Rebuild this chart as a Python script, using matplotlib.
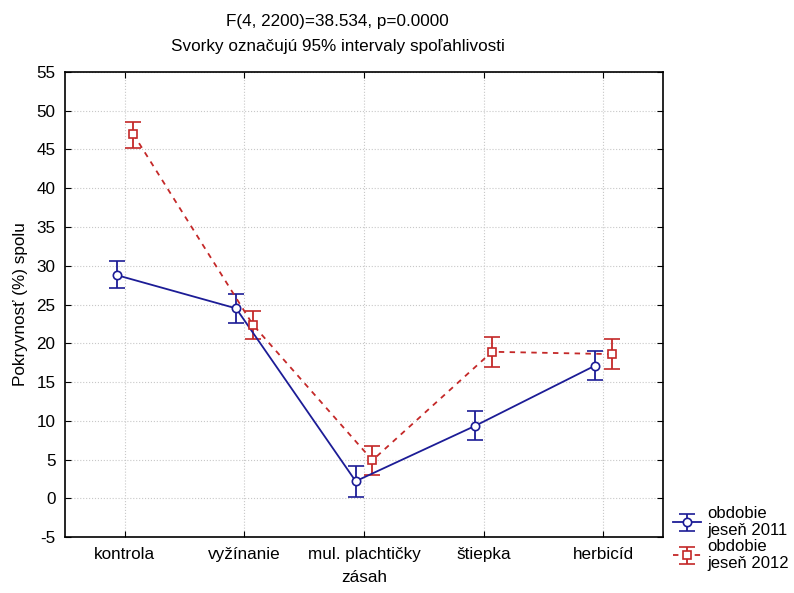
import matplotlib.pyplot as plt
import numpy as np

plt.rcParams['font.family'] = ['Liberation Sans', 'DejaVu Sans']
plt.rcParams['axes.unicode_minus'] = False

# data
categories = ["kontrola", "vyžínanie", "mul. plachtičky", "štiepka", "herbicíd"]
mean_2011 = [28.8, 24.5, 2.2, 9.35, 17.1]
low_2011 = [27.1, 22.6, 0.1, 7.5, 15.3]
high_2011 = [30.6, 26.4, 4.1, 11.25, 19.0]
mean_2012 = [47.0, 22.4, 4.9, 18.9, 18.6]
low_2012 = [45.2, 20.6, 3.0, 17.0, 16.7]
high_2012 = [48.6, 24.2, 6.7, 20.8, 20.6]
labels = ["obdobie\njeseň 2011", "obdobie\njeseň 2012"]

blue = "#1c1c96"
red = "#c42828"
fs = 12.3

fig = plt.figure(figsize=(7.94, 5.93), dpi=100)
ax = fig.add_axes([0.082, 0.0944, 0.753, 0.7842])

x = np.arange(len(categories))
off = 0.07

m1 = np.array(mean_2011)
m2 = np.array(mean_2012)
err1 = [m1 - np.array(low_2011), np.array(high_2011) - m1]
err2 = [m2 - np.array(low_2012), np.array(high_2012) - m2]

h1 = ax.errorbar(x - off, m1, yerr=err1, color=blue, ls='-', lw=1.3,
                 marker='o', ms=6, mfc='white', mec=blue, mew=1.2,
                 capsize=6, elinewidth=1.3, capthick=1.3, label=labels[0])
h2 = ax.errorbar(x + off, m2, yerr=err2, color=red, ls=(0, (3, 3)), lw=1.3,
                 marker='s', ms=6, mfc='white', mec=red, mew=1.2,
                 capsize=6, elinewidth=1.3, capthick=1.3, label=labels[1])

ax.set_xlim(-0.5, 4.5)
ax.set_ylim(-5, 55)
ax.set_yticks(np.arange(-5, 56, 5))
ax.set_xticks(x)
ax.set_xticklabels(categories)
ax.tick_params(direction='in', top=True, right=True, labelsize=fs, length=4, pad=7)
ax.grid(True, color='#c8c8c8', ls=':', lw=0.8)
for s in ax.spines.values():
    s.set_linewidth(1.2)

ax.set_xlabel("zásah", fontsize=fs, labelpad=6)
ax.set_ylabel("Pokryvnosť (%) spolu", fontsize=fs, labelpad=6)

fig.text(0.425, 0.963, "F(4, 2200)=38.534, p=0.0000", ha='center', va='center', fontsize=fs)
fig.text(0.425, 0.922, "Svorky označujú 95% intervaly spoľahlivosti", ha='center', va='center', fontsize=fs)

fig.legend(handles=[h1, h2], loc='upper left', bbox_to_anchor=(0.847, 0.147),
           frameon=False, fontsize=12, handlelength=1.7, handletextpad=0.4,
           labelspacing=0.05, borderaxespad=0, borderpad=0)

fig.savefig("out.png", dpi=100)
